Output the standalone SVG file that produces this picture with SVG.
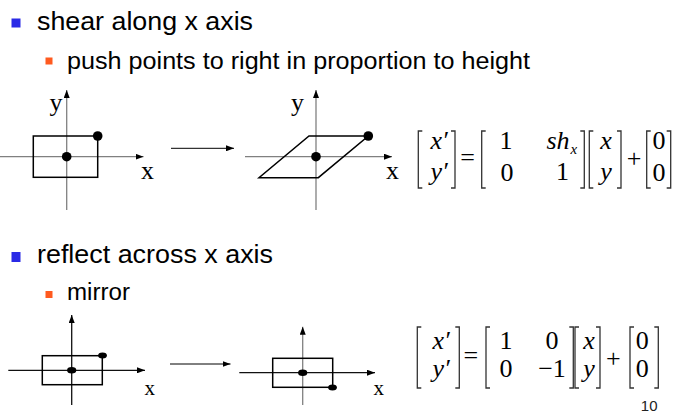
<svg xmlns="http://www.w3.org/2000/svg" width="678" height="416" viewBox="0 0 678 416">
<defs>
<marker id="ah" viewBox="0 0 8 6" refX="8" refY="3" markerWidth="8" markerHeight="6" markerUnits="userSpaceOnUse" orient="auto">
<path d="M0,0 L8,3 L0,6 Z" fill="#000"/>
</marker>
<style>
.h1{font-family:"Liberation Sans",Arial,sans-serif;font-size:25px;fill:#000}
.h2{font-family:"Liberation Sans",Arial,sans-serif;font-size:23px;fill:#000}
.lab{font-family:"Liberation Serif","Times New Roman",serif;font-size:26px;fill:#000}
.labs{font-family:"Liberation Serif","Times New Roman",serif;font-size:21px;fill:#000}
.m{font-family:"Liberation Serif","Times New Roman",serif;font-size:26px;fill:#000}
.mi{font-family:"Liberation Serif","Times New Roman",serif;font-size:26px;font-style:italic;fill:#000}
.ms{font-family:"Liberation Serif","Times New Roman",serif;font-size:15px;font-style:italic;fill:#000}
.ax{stroke:#808080;stroke-width:1.3;fill:none}
.axd{stroke:#111;stroke-width:1.3;fill:none}
.shape{stroke:#000;stroke-width:1.5;fill:none}
.br{stroke:#333;stroke-width:1.3;fill:none}
.conn{stroke:#000;stroke-width:1;fill:none}
</style>
</defs>
<rect width="678" height="416" fill="#fff"/>

<g id="bullets">
<rect x="11.5" y="18.5" width="9" height="9" fill="#2a2ae6"/>
<text class="h1" x="37" y="29.5" textLength="216" lengthAdjust="spacingAndGlyphs">shear along x axis</text>
<rect x="45.5" y="57.5" width="7" height="7" fill="#ff5a1f"/>
<text class="h2" x="67" y="68.5" textLength="463" lengthAdjust="spacingAndGlyphs">push points to right in proportion to height</text>
<rect x="11.5" y="252" width="9" height="10" fill="#2a2ae6"/>
<text class="h1" x="37" y="262.5" textLength="236" lengthAdjust="spacingAndGlyphs">reflect across x axis</text>
<rect x="45.5" y="291" width="7" height="7" fill="#ff5a1f"/>
<text class="h2" x="67" y="300" textLength="63" lengthAdjust="spacingAndGlyphs">mirror</text>
</g>

<g id="shear-before">
<line class="ax" x1="66.7" y1="210" x2="66.7" y2="90" marker-end="url(#ah)"/>
<line class="ax" x1="0" y1="156.7" x2="143.5" y2="156.7" marker-end="url(#ah)"/>
<rect class="shape" x="33.3" y="136" width="64.4" height="41.3"/>
<circle cx="66.7" cy="156.7" r="4.8" fill="#000"/>
<circle cx="97.7" cy="136" r="4.8" fill="#000"/>
<text class="lab" x="49.5" y="111">y</text>
<text class="lab" x="141" y="179">x</text>
</g>

<g id="shear-after">
<line class="ax" x1="316" y1="210" x2="316" y2="90" marker-end="url(#ah)"/>
<line class="ax" x1="245" y1="156.7" x2="392" y2="156.7" marker-end="url(#ah)"/>
<path class="shape" d="M309,136 L368.3,136 L318.3,177.7 L259,177.7 Z"/>
<circle cx="316" cy="156.7" r="4.8" fill="#000"/>
<circle cx="368.3" cy="136" r="4.8" fill="#000"/>
<text class="lab" x="291" y="111">y</text>
<text class="lab" x="386" y="179">x</text>
</g>

<g id="reflect-before">
<line class="axd" x1="71.7" y1="405" x2="71.7" y2="315" marker-end="url(#ah)"/>
<line class="axd" x1="8.3" y1="370.3" x2="145" y2="370.3" marker-end="url(#ah)"/>
<rect class="shape" x="42.3" y="355.7" width="60" height="29"/>
<ellipse cx="71.7" cy="370.3" rx="4.6" ry="3.2" fill="#000"/>
<ellipse cx="102.5" cy="355.5" rx="4.4" ry="3" fill="#000"/>
<text class="labs" x="144.5" y="395">x</text>
</g>

<g id="reflect-after">
<line class="ax" x1="302.7" y1="405" x2="302.7" y2="326.7" marker-end="url(#ah)"/>
<line class="axd" x1="239.3" y1="372.7" x2="375" y2="372.7" marker-end="url(#ah)"/>
<rect class="shape" x="272.7" y="358.3" width="60" height="29"/>
<ellipse cx="302.7" cy="372.7" rx="4.6" ry="3.2" fill="#000"/>
<ellipse cx="332.5" cy="387.5" rx="4.4" ry="3" fill="#000"/>
<text class="labs" x="373.5" y="395">x</text>
</g>

<g id="connectors">
<line class="conn" x1="171" y1="148.3" x2="234" y2="148.3" marker-end="url(#ah)"/>
<line class="conn" x1="170" y1="364" x2="230.5" y2="364" marker-end="url(#ah)"/>
</g>

<g id="shear-matrix">
<path class="br" d="M422.3,131 H418.3 V188 H422.3 M451,131 H455 V188 H451 M485.7,131 H481.7 V188 H485.7 M580.3,131 H584.3 V188 H580.3 M593.3,131 H589.3 V188 H593.3 M617,131 H621 V188 H617 M650.7,131 H646.7 V188 H650.7 M666.7,131 H670.7 V188 H666.7"/>
<text class="mi" x="430.5" y="149">x′</text>
<text class="mi" x="430.5" y="180">y′</text>
<text class="m" x="467.5" y="165.5" text-anchor="middle">=</text>
<text class="m" x="506" y="149" text-anchor="middle">1</text>
<text class="m" x="507" y="181" text-anchor="middle">0</text>
<text class="mi" x="546.5" y="148.5">sh</text>
<text class="ms" x="570.5" y="153.5">x</text>
<text class="m" x="562.5" y="180" text-anchor="middle">1</text>
<text class="mi" x="606" y="149" text-anchor="middle">x</text>
<text class="mi" x="606" y="180" text-anchor="middle">y</text>
<text class="m" x="634" y="167" text-anchor="middle">+</text>
<text class="m" x="659" y="149" text-anchor="middle">0</text>
<text class="m" x="659" y="181" text-anchor="middle">0</text>
</g>

<g id="reflect-matrix">
<path class="br" d="M421.3,327 H417.3 V388 H421.3 M455.3,327 H459.3 V388 H455.3 M490,327 H486 V388 H490 M569.3,327 H573.3 V388 H569.3 M579,327 H575 V388 H579 M596,327 H600 V388 H596 M634,327 H630 V388 H634 M654.3,327 H658.3 V388 H654.3"/>
<text class="mi" x="432.5" y="348.5">x′</text>
<text class="mi" x="432.5" y="377">y′</text>
<text class="m" x="470.8" y="363.5" text-anchor="middle">=</text>
<text class="m" x="506" y="348.5" text-anchor="middle">1</text>
<text class="m" x="552" y="348.5" text-anchor="middle">0</text>
<text class="m" x="506" y="377" text-anchor="middle">0</text>
<text class="m" x="552" y="377" text-anchor="middle">−1</text>
<text class="mi" x="589" y="348.5" text-anchor="middle">x</text>
<text class="mi" x="589" y="377" text-anchor="middle">y</text>
<text class="m" x="613.3" y="367" text-anchor="middle">+</text>
<text class="m" x="642.3" y="348.5" text-anchor="middle">0</text>
<text class="m" x="642.3" y="377" text-anchor="middle">0</text>
</g>

<text x="657.5" y="410.7" text-anchor="end" style="font-family:'Liberation Sans',Arial,sans-serif;font-size:15px;fill:#222">10</text>
</svg>
